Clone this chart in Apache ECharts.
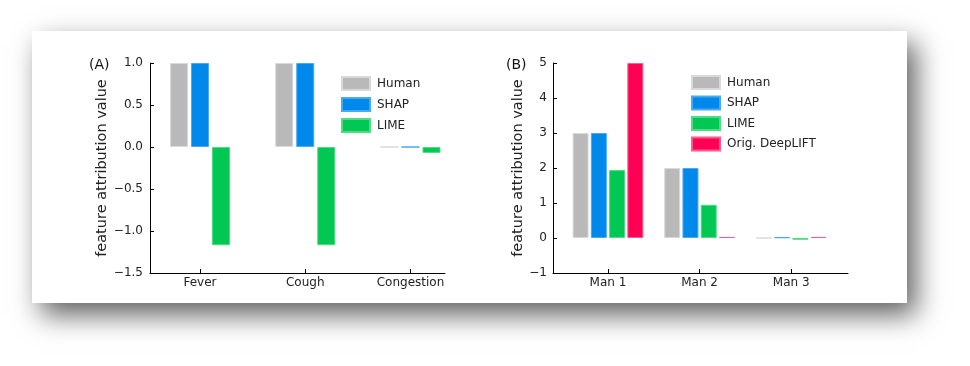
<!DOCTYPE html>
<html>
<head>
<meta charset="utf-8">
<script src="https://cdn.jsdelivr.net/npm/echarts@6/dist/echarts.min.js"></script>
<style>
  html, body { margin: 0; padding: 0; background: #ffffff; }
  #card { position: absolute; left: 32px; top: 31px; width: 875px; height: 272px; background: #ffffff;
          box-shadow: 9px 12px 26px rgba(0,0,0,0.62); }
  #chart { position: absolute; left: 0; top: 0; width: 970px; height: 366px; }
</style>
</head>
<body>
<div id="card"></div>
<div id="chart"></div>
<script>
// Panel A data
const catsA = ['Fever', 'Cough', 'Congestion'];
const humanA = [1.0, 1.0, 0.0];
const shapA = [1.0, 1.0, 0.0];
const limeA = [-1.17, -1.17, -0.07];
const yTicksA = [-1.5, -1.0, -0.5, 0.0, 0.5, 1.0];

// Panel B data
const catsB = ['Man 1', 'Man 2', 'Man 3'];
const humanB = [3.0, 2.0, 0.0];
const shapB = [3.0, 2.0, 0.02];
const limeB = [1.94, 0.95, -0.05];
const deepliftB = [5.0, 0.03, 0.03];
const yTicksB = [-1, 0, 1, 2, 3, 4, 5];

const colors = { Human: '#b9b9b9', SHAP: '#0088ea', LIME: '#00c852', 'Orig. DeepLIFT': '#ff0055' };
const edges = { Human: '#d9d9d9', SHAP: '#49a9f2', LIME: '#4fdb87', 'Orig. DeepLIFT': '#ff5c8e' };
const font = 'DejaVu Sans';
const minus = s => String(s).replace('-', '\u2212');

function xy(vals) { return vals.map((v, i) => [i, v]); }

function barSeries(name, vals, idx, width, gap) {
  return {
    type: 'bar', name: name, xAxisIndex: idx, yAxisIndex: idx,
    data: xy(vals), barWidth: width, barGap: gap,
    itemStyle: { color: colors[name], borderColor: edges[name], borderWidth: 1 },
    emphasis: { disabled: true }, animation: false
  };
}

function xAxisCfg(idx, cats, min, max) {
  return {
    type: 'value', gridIndex: idx, min: min, max: max,
    splitLine: { show: false },
    axisLine: { show: true, onZero: false, lineStyle: { color: '#000', width: 1 } },
    axisTick: { show: true, inside: true, length: 4, customValues: cats.map((c, i) => i), lineStyle: { color: '#000' } },
    axisLabel: { customValues: cats.map((c, i) => i), formatter: v => cats[Math.round(v)], color: '#222', fontFamily: font, fontSize: 12, margin: 4 }
  };
}

function yAxisCfg(idx, ticks, dec, gap, lblMargin) {
  return {
    type: 'value', gridIndex: idx, min: ticks[0], max: ticks[ticks.length - 1], interval: ticks[1] - ticks[0],
    name: 'feature attribution value', nameLocation: 'middle', nameRotate: 90, nameGap: gap,
    nameTextStyle: { fontFamily: font, fontSize: 14.5, color: '#222' },
    splitLine: { show: false },
    axisLine: { show: true, onZero: false, lineStyle: { color: '#000', width: 1 } },
    axisTick: { show: true, inside: true, length: 4, lineStyle: { color: '#000' } },
    axisLabel: { formatter: v => minus(v.toFixed(dec)), color: '#222', fontFamily: font, fontSize: 12, margin: lblMargin }
  };
}

function legendCfg(names, left, top, gap) {
  return {
    data: names, orient: 'vertical', left: left, top: top, icon: 'rect', padding: 0,
    itemWidth: 28, itemHeight: 13, itemGap: gap, selectedMode: false,
    textStyle: { fontFamily: font, fontSize: 12, color: '#222', lineHeight: 13, padding: [0, 0, 0, 2] }
  };
}

const chart = echarts.init(document.getElementById('chart'), null, { renderer: 'canvas' });
chart.setOption({
  backgroundColor: 'transparent',
  animation: false,
  title: [
    { text: '(A)', left: 84, top: 53, textStyle: { fontFamily: font, fontSize: 14, fontWeight: 'normal', color: '#111' } },
    { text: '(B)', left: 501, top: 53, textStyle: { fontFamily: font, fontSize: 14, fontWeight: 'normal', color: '#111' } }
  ],
  grid: [
    { left: 150, right: 525, top: 63, bottom: 93 },
    { left: 553, right: 122, top: 63, bottom: 93 }
  ],
  legend: [
    legendCfg(['Human', 'SHAP', 'LIME'], 341, 76, 6),
    legendCfg(['Human', 'SHAP', 'LIME', 'Orig. DeepLIFT'], 691, 75, 5.5)
  ],
  xAxis: [xAxisCfg(0, catsA, -0.475, 2.328), xAxisCfg(1, catsB, -0.6, 2.62)],
  yAxis: [yAxisCfg(0, yTicksA, 1, 36, 7), yAxisCfg(1, yTicksB, 0, 25, 6)],
  series: [
    barSeries('Human', humanA, 0, 18, '16.7%'),
    barSeries('SHAP', shapA, 0, 18, '16.7%'),
    barSeries('LIME', limeA, 0, 18, '16.7%'),
    barSeries('Human', humanB, 1, 16, '14%'),
    barSeries('SHAP', shapB, 1, 16, '14%'),
    barSeries('LIME', limeB, 1, 16, '14%'),
    barSeries('Orig. DeepLIFT', deepliftB, 1, 16, '14%')
  ]
});
</script>
</body>
</html>
